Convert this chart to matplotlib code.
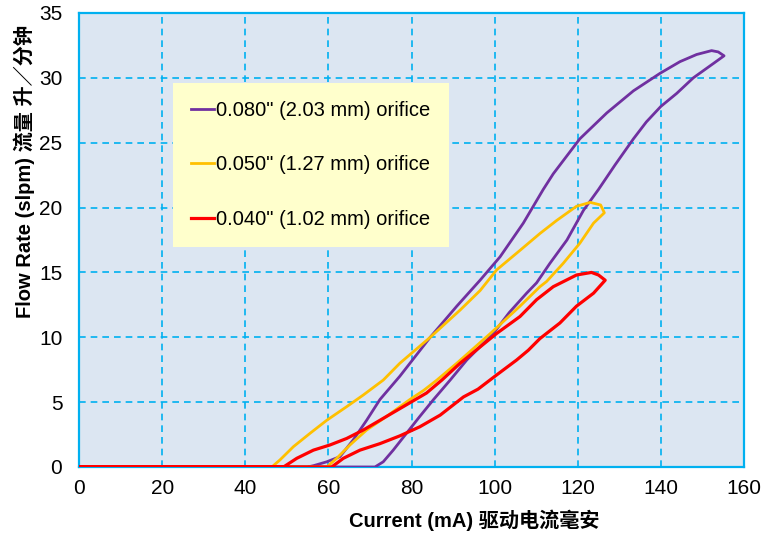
import matplotlib
matplotlib.use('Agg')
import matplotlib.pyplot as plt

# loops: rise along lower branch, back along upper branch
x_080 = [0, 71.2, 73.2, 75.6, 78.8, 82.0, 85.3, 89.3, 93.3, 99.7, 103.5, 107.7, 110.1,
         113.3, 117.4, 121.4, 125.0, 129.0, 133.4, 136.5, 140.0, 143.8, 147.8, 152.6, 155.2,
         153.8, 152.2, 148.6, 144.6, 139.8, 133.4, 127.0, 120.5, 114.1, 111.7, 106.9, 101.3,
         96.5, 90.9, 84.5, 77.2, 72.4, 69.2, 66.0, 62.8, 59.6, 56.4, 55.0, 0]
y_080 = [0, 0, 0.4, 1.3, 2.6, 3.9, 5.2, 6.7, 8.25, 10.3, 11.9, 13.4, 14.2,
         15.7, 17.5, 19.8, 21.4, 23.3, 25.3, 26.6, 27.8, 28.8, 30.0, 31.1, 31.7,
         32.0, 32.1, 31.8, 31.25, 30.35, 29.0, 27.3, 25.3, 22.6, 21.4, 18.8, 16.2,
         14.4, 12.4, 10.0, 7.0, 5.2, 3.6, 2.1, 0.8, 0.4, 0.1, 0, 0]

x_050 = [0, 59.6, 62.0, 65.2, 69.2, 74.0, 79.6, 82.9, 86.1, 90.9, 99.0, 106.1, 110.9,
         112.5, 116.5, 120.5, 123.8, 126.4,
         125.5, 123.0, 119.7, 114.9, 110.9, 106.1, 100.5, 96.5, 91.7, 84.5, 77.2, 73.2,
         68.4, 64.4, 59.6, 55.6, 51.6, 48.4, 46.4, 0]
y_050 = [0, 0, 0.67, 1.7, 2.85, 3.9, 5.2, 5.9, 6.7, 8.0, 10.3, 12.4, 13.9,
         14.3, 15.7, 17.25, 18.8, 19.6,
         20.2, 20.4, 20.1, 19.0, 18.0, 16.7, 15.2, 13.6, 12.1, 10.0, 8.0, 6.7,
         5.55, 4.65, 3.6, 2.6, 1.57, 0.56, 0, 0]

x_040 = [0, 60.8, 63.6, 67.6, 72.4, 77.2, 82.0, 86.9, 92.5, 96.0, 100.5, 105.3, 108.1,
         110.9, 115.7, 119.7, 123.8, 126.6,
         125.0, 123.3, 119.7, 114.1, 110.1, 106.1, 100.5, 91.7, 87.3, 83.6, 78.8, 74.0,
         68.4, 64.4, 60.4, 56.4, 52.4, 49.2, 0]
y_040 = [0, 0, 0.67, 1.3, 1.8, 2.4, 3.1, 4.0, 5.4, 6.0, 7.1, 8.25, 9.0,
         9.9, 11.1, 12.4, 13.4, 14.4,
         14.8, 15.0, 14.8, 13.9, 12.9, 11.6, 10.3, 8.0, 6.7, 5.7, 4.8, 3.9,
         2.85, 2.2, 1.7, 1.3, 0.67, 0, 0]

labels = ['0.080" (2.03 mm) orifice', '0.050" (1.27 mm) orifice', '0.040" (1.02 mm) orifice']
x_ticks = [0, 20, 40, 60, 80, 100, 120, 140, 160]
y_ticks = [0, 5, 10, 15, 20, 25, 30, 35]

grid_blue = '#00B0F0'

fig = plt.figure(figsize=(7.61, 5.33), dpi=100)
ax = fig.add_axes([79 / 761, 66 / 533, 665 / 761, 454 / 533])
ax.set_facecolor('#DCE6F2')

ax.plot(x_080, y_080, color='#7030A0', lw=2.0, label=labels[0], zorder=3)
ax.plot(x_050, y_050, color='#FFC000', lw=2.0, label=labels[1], zorder=3)
ax.plot(x_040, y_040, color='#FF0000', lw=2.3, label=labels[2], zorder=4)

ax.set_xlim(0, 160)
ax.set_ylim(0, 35)
ax.set_xticks(x_ticks)
ax.set_yticks(y_ticks)
ax.set_xticklabels([str(v) for v in x_ticks], family='Liberation Sans', fontsize=15)
ax.set_yticklabels([str(v) for v in y_ticks], family='Liberation Sans', fontsize=15)
ax.tick_params(axis='x', length=0, pad=9)
ax.tick_params(axis='y', length=0, pad=12)

ax.grid(True, color=grid_blue, linestyle=(0, (4, 3)), lw=1.2)
ax.set_axisbelow(True)
for s in ax.spines.values():
    s.set_color(grid_blue)
    s.set_linewidth(1.6)

lab_font = ['Liberation Sans', 'Noto Sans CJK SC']
ax.set_xlabel('Current (mA) 驱动电流毫安', family=lab_font, fontsize=14.5, fontweight='bold')
ax.set_ylabel('Flow Rate (slpm) 流量 升／分钟', family=lab_font, fontsize=14.5, fontweight='bold')
ax.xaxis.set_label_coords(0.595, -0.093)
ax.yaxis.set_label_coords(-0.066, 0.65)

leg = ax.legend(loc='upper left', bbox_to_anchor=(0.1414, 0.8458), frameon=True,
                fancybox=False, facecolor='#FFFFCC', edgecolor='none', framealpha=1,
                prop={'family': 'Liberation Sans', 'size': 14.5}, handlelength=1.15,
                handletextpad=0.1, labelspacing=1.75, borderpad=0.9, borderaxespad=0)
leg.set_zorder(5)

fig.savefig('out.png', dpi=100)
